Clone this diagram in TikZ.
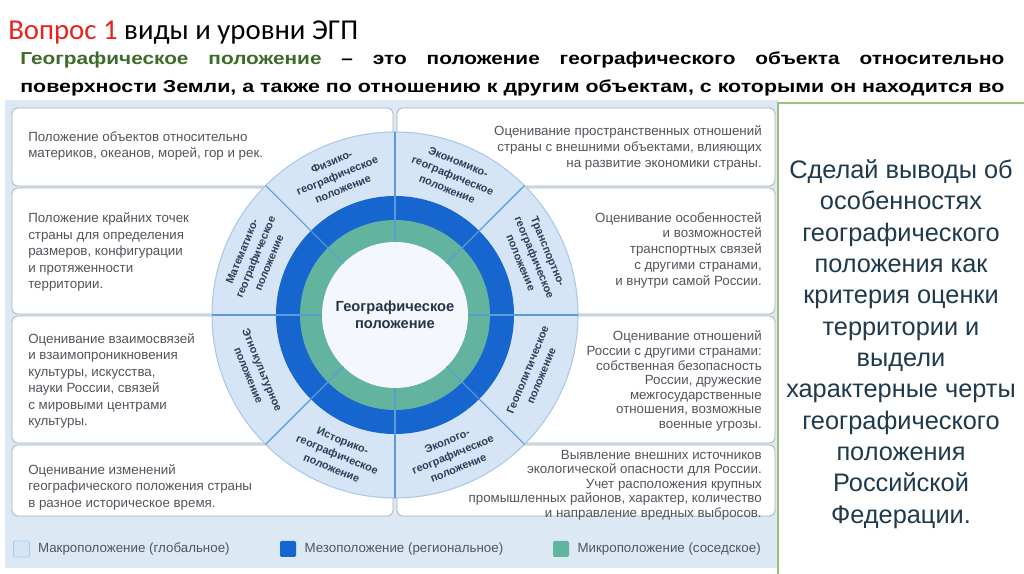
\documentclass[tikz,border=0pt]{standalone}
\usepackage{graphicx}
\usepackage{fontspec}
\setmainfont{Liberation Sans}
\newfontfamily\titlefont{Carlito}
\usetikzlibrary{positioning,calc}
\definecolor{panelblue}{HTML}{DCE8F4}
\definecolor{macro}{HTML}{D5E5F6}
\definecolor{macroedge}{HTML}{A9C9EA}
\definecolor{meso}{HTML}{1766CF}
\definecolor{micro}{HTML}{62B49E}
\definecolor{core}{HTML}{F4F8FC}
\definecolor{divline}{HTML}{5E9BD6}
\definecolor{boxline}{HTML}{A9B3BE}
\definecolor{boxtext}{HTML}{50565E}
\definecolor{labeltext}{HTML}{2B3E5A}
\definecolor{titlered}{HTML}{E8231E}
\definecolor{termgreen}{HTML}{3C6B2B}
\definecolor{paneltext}{HTML}{1F3A4C}
\definecolor{panelgreen}{HTML}{9CC27A}
\tikzset{
  infobox/.style={draw=boxline, fill=white, line width=0.6pt, rounded corners=4pt},
  boxtxt/.style={font=\fontsize{10}{12.4}\selectfont, text=boxtext, inner sep=0pt},
  tighttxt/.style={boxtxt, font=\fontsize{10}{10.9}\selectfont},
  sector/.style={font=\fontsize{8.2}{11}\selectfont\bfseries, text=labeltext, align=center, inner sep=0pt},
  divider/.style={draw=divline, line width=0.8pt},
  keybox/.style={minimum size=12pt, inner sep=0pt, rounded corners=1pt},
  keytxt/.style={font=\fontsize{10}{12}\selectfont, text=boxtext, inner sep=0pt},
  titletxt/.style={font=\titlefont\fontsize{21.6}{25}\selectfont, inner sep=0pt},
  deftxt/.style={font=\fontsize{13}{15}\selectfont\bfseries, inner sep=0pt},
  paneltxt/.style={font=\fontsize{19}{23.5}\selectfont, text=paneltext, align=center, inner sep=0pt}
}
\begin{document}
\begin{tikzpicture}[x=0.75pt,y=0.75pt]
  \useasboundingbox (0,0) rectangle (1024,574);
  \fill[white] (0,0) rectangle (1024,574);

  % heading and definition
  \node[titletxt, anchor=base west] (title) at (8,534)
    {\textcolor{titlered}{Вопрос 1} виды и уровни ЭГП};
  \node[deftxt, anchor=base west] (defA) at (20,509)
    {\scalebox{1.2}[1]{\makebox[615pt][s]{\textcolor{termgreen}{Географическое положение} – это положение географического объекта относительно}}};
  \node[deftxt, anchor=base west] (defB) at (20,481)
    {\resizebox{738pt}{\height}{поверхности Земли, а также по отношению к другим объектам, с которыми он находится во}};

  % scheme background and boxes
  \fill[panelblue] (5,6) rectangle (778,474);
  \foreach \yb/\yt in {388/466, 260/386, 131/258, 58/129} {
    \draw[infobox] (12,\yb) rectangle (393,\yt);
    \draw[infobox] (397,\yb) rectangle (775,\yt);
  }

  % rings
  \coordinate (c) at (395,259);
  \fill[macro] (c) circle (183);
  \draw[macroedge, line width=0.8pt] (c) circle (183);
  \fill[meso] (c) circle (119);
  \fill[micro] (c) circle (95);
  \fill[core] (c) circle (73);
  \foreach \a in {0,45,...,315}
    \draw[divider] ($(c)+(\a:73)$) -- ($(c)+(\a:183)$);

  % sector labels
  \foreach \a/\n/\txt [evaluate=\a as \rot using \a-90] in {
      112.5/Fiz/{Физико-\\географическое\\положение},
      67.5/Econ/{Экономико-\\географическое\\положение},
      22.5/Trans/{Транспортно-\\географическое\\положение},
      157.5/Math/{Математико-\\географическое\\положение}}
    \node[sector, rotate=\rot] (s\n) at ($(c)+(\a:151)$) {\txt};
  \foreach \a/\n/\txt [evaluate=\a as \rot using \a+90] in {
      -22.5/Geopol/{Геополитическое\\положение},
      -67.5/Eco/{Эколого-\\географическое\\положение},
      -112.5/Hist/{Историко-\\географическое\\положение},
      -157.5/Ethno/{Этнокультурное\\положение}}
    \node[sector, rotate=\rot] (s\n) at ($(c)+(\a:151)$) {\txt};

  \node[font=\fontsize{11}{12.8}\selectfont\bfseries, text=labeltext!85!black, align=center, inner sep=0pt]
    (geoCenter) at (c) {Географическое\\положение};

  % left column texts
  \node[boxtxt, anchor=west, align=left] (tFiz) at (28,428)
    {Положение объектов относительно\\материков, океанов, морей, гор и рек.};
  \node[boxtxt, anchor=west, align=left] (tMath) at (28,322)
    {Положение крайних точек\\страны для определения\\размеров, конфигурации\\и протяженности\\территории.};
  \node[boxtxt, anchor=west, align=left] (tEthno) at (28,193)
    {Оценивание взаимосвязей\\и взаимопроникновения\\культуры, искусства,\\науки России, связей\\с мировыми центрами\\культуры.};
  \node[boxtxt, anchor=west, align=left] (tHist) at (28,87)
    {Оценивание изменений\\географического положения страны\\в разное историческое время.};

  % right column texts
  \node[boxtxt, anchor=east, align=right, font=\fontsize{10}{12}\selectfont] (tEcon) at (762,426)
    {Оценивание пространственных отношений\\страны с внешними объектами, влияющих\\на развитие экономики страны.};
  \node[boxtxt, anchor=east, align=right, font=\fontsize{10}{11.8}\selectfont] (tTrans) at (762,324)
    {Оценивание особенностей\\и возможностей\\транспортных связей\\с другими странами,\\и внутри самой России.};
  \node[tighttxt, anchor=east, align=right] (tGeopol) at (762,193)
    {Оценивание отношений\\России с другими странами:\\собственная безопасность\\России, дружеские\\межгосударственные\\отношения, возможные\\военные угрозы.};
  \node[tighttxt, anchor=east, align=right] (tEco) at (762,89)
    {Выявление внешних источников\\экологической опасности для России.\\Учет расположения крупных\\промышленных районов, характер, количество\\и направление вредных выбросов.};

  % legend
  \node[keybox, fill=macro, draw=macroedge] (keyMacro) at (21.5,25) {};
  \node[keytxt, right=6pt of keyMacro] (keyMacroTxt) {Макроположение (глобальное)};
  \node[keybox, fill=meso] (keyMeso) at (288,25) {};
  \node[keytxt, right=6pt of keyMeso] (keyMesoTxt) {Мезоположение (региональное)};
  \node[keybox, fill=micro] (keyMicro) at (561,25) {};
  \node[keytxt, right=6pt of keyMicro] (keyMicroTxt) {Микроположение (соседское)};

  % task panel
  \fill[white] (778,0) rectangle (1024,471);
  \draw[panelgreen, line width=1.2pt] (778,0) -- (778,471) -- (1024,471);
  \node[paneltxt] (task) at (901,230)
    {Сделай выводы об\\особенностях\\географического\\положения как\\критерия оценки\\территории и\\выдели\\характерные черты\\географического\\положения\\Российской\\Федерации.};
\end{tikzpicture}
\end{document}
